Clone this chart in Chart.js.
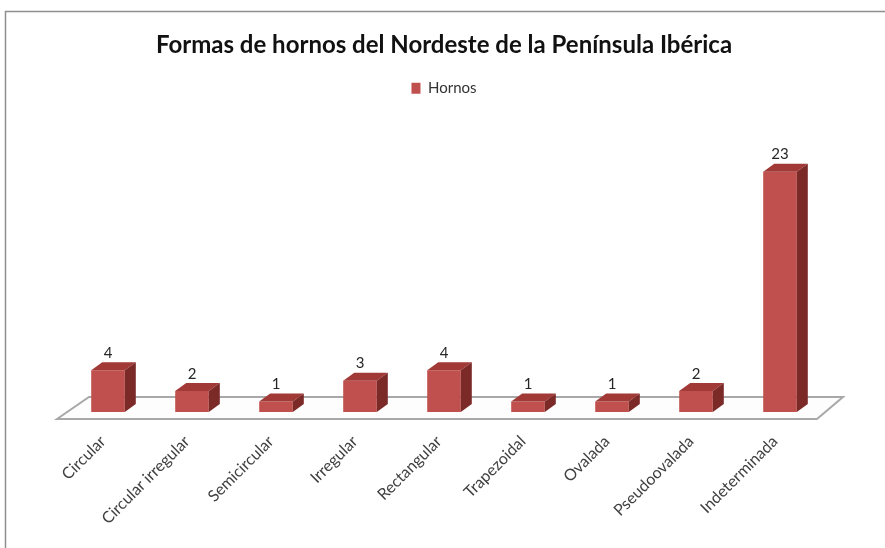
<!DOCTYPE html>
<html>
<head>
<meta charset="utf-8">
<script src="https://cdn.jsdelivr.net/npm/chart.js@4"></script>
<style>
  html, body { margin: 0; padding: 0; background: #fff; }
  #wrap { width: 885px; height: 548px; }
</style>
</head>
<body>
<div id="wrap"><canvas id="myChart" width="885" height="548"></canvas></div>
<script>
const categories = ['Circular', 'Circular irregular', 'Semicircular', 'Irregular', 'Rectangular',
  'Trapezoidal', 'Ovalada', 'Pseudoovalada', 'Indeterminada'];
const hornos = [4, 2, 1, 3, 4, 1, 1, 2, 23];
const seriesName = 'Hornos';
const chartTitle = 'Formas de hornos del Nordeste de la Península Ibérica';

const frontColor = '#c0504d';
const topColor = '#a13a37';
const sideColor = '#7c2a28';
const depthX = 11, depthY = 8;

// frame around the whole chart
const framePlugin = {
  id: 'frame',
  beforeDraw(chart) {
    const ctx = chart.ctx;
    ctx.save();
    ctx.fillStyle = '#fff';
    ctx.fillRect(0, 0, chart.width, chart.height);
    ctx.strokeStyle = '#8e8e8e';
    ctx.lineWidth = 1.5;
    ctx.strokeRect(5.5, 11.5, chart.width + 20, chart.height + 20);
    ctx.restore();
  }
};

// floor of the 3d plot
const floorPlugin = {
  id: 'floor',
  beforeDatasetsDraw(chart) {
    const {ctx, chartArea: a} = chart;
    ctx.save();
    ctx.beginPath();
    ctx.moveTo(a.left - 9, a.bottom + 7);
    ctx.lineTo(a.left + 23, a.bottom - 15);
    ctx.lineTo(a.right + 21, a.bottom - 15);
    ctx.lineTo(a.right - 5, a.bottom + 7);
    ctx.closePath();
    ctx.fillStyle = '#fdfdfd';
    ctx.fill();
    ctx.strokeStyle = '#a8a8a8';
    ctx.lineWidth = 2;
    ctx.stroke();
    ctx.restore();
  }
};

// top and side faces of each bar, plus value labels
const boxPlugin = {
  id: 'box3d',
  afterDatasetsDraw(chart) {
    const ctx = chart.ctx;
    const meta = chart.getDatasetMeta(0);
    ctx.save();
    meta.data.forEach((bar, i) => {
      const l = bar.x - bar.width / 2, r = bar.x + bar.width / 2;
      const t = bar.y, b = bar.base;
      ctx.fillStyle = topColor;
      ctx.beginPath();
      ctx.moveTo(l, t);
      ctx.lineTo(l + depthX, t - depthY);
      ctx.lineTo(r + depthX, t - depthY);
      ctx.lineTo(r, t);
      ctx.closePath();
      ctx.fill();
      ctx.fillStyle = sideColor;
      ctx.beginPath();
      ctx.moveTo(r, t);
      ctx.lineTo(r + depthX, t - depthY);
      ctx.lineTo(r + depthX, b - depthY);
      ctx.lineTo(r, b);
      ctx.closePath();
      ctx.fill();
      ctx.fillStyle = '#262626';
      ctx.font = '15px Lato';
      ctx.textAlign = 'center';
      ctx.textBaseline = 'middle';
      ctx.fillText(String(hornos[i]), bar.x, t - depthY - 9);
    });
    ctx.restore();
  }
};

const config = {
  type: 'bar',
  data: {
    labels: categories,
    datasets: [{
      label: seriesName,
      data: hornos,
      backgroundColor: frontColor,
      borderWidth: 0,
      barPercentage: 0.4,
      categoryPercentage: 1
    }]
  },
  options: {
    responsive: false,
    animation: false,
    layout: { padding: { left: 66, right: 63, top: 13, bottom: 0 } },
    plugins: {
      title: {
        display: true,
        text: chartTitle,
        color: '#111',
        font: { family: 'Lato', size: 24, weight: 'bold' },
        padding: { top: 18, bottom: 9 }
      },
      legend: {
        labels: {
          color: '#333',
          font: { family: 'Lato', size: 15 },
          boxWidth: 9,
          boxHeight: 11,
          padding: 12
        }
      },
      tooltip: { enabled: false }
    },
    scales: {
      x: {
        grid: { display: false, drawTicks: false },
        border: { display: false },
        ticks: {
          color: '#404040',
          font: { family: 'Lato', size: 16 },
          minRotation: 45,
          maxRotation: 45,
          padding: 20,
          labelOffset: -5
        },
        afterFit(scale) { scale.height = 136; }
      },
      y: {
        display: false,
        min: 0,
        max: 29.3
      }
    }
  },
  plugins: [framePlugin, floorPlugin, boxPlugin]
};

const myChart = new Chart(document.getElementById('myChart'), config);
</script>
</body>
</html>
